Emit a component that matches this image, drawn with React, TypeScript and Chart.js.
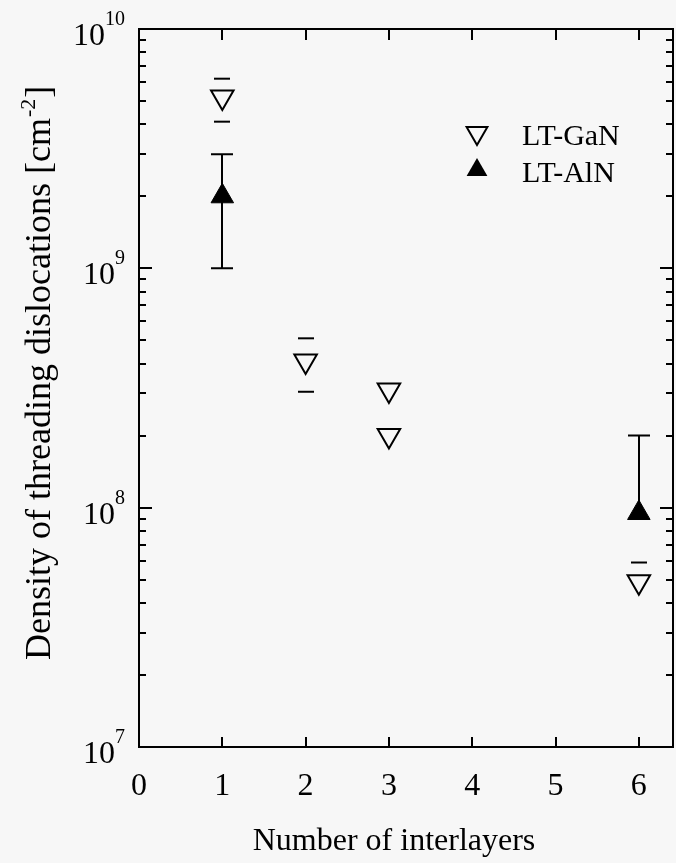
import React, { useEffect, useRef } from 'react';
import { Chart, registerables } from 'chart.js';

Chart.register(...registerables);

// ---- data ----
const xTickValues = [0, 1, 2, 3, 4, 5, 6];
const ganX = [1, 2, 3, 3, 6];
const ganY = [5.2e9, 4.1e8, 3.1e8, 2.0e8, 4.9e7];
const ganLow = [4.1e9, 3.05e8, null, null, null];
const ganHigh = [6.2e9, 5.1e8, null, null, 5.9e7];
const alnX = [1, 6];
const alnY = [2.0e9, 9.5e7];
const alnLow = [1.0e9, null];
const alnHigh = [3.0e9, 2.0e8];
const yExponents = [7, 8, 9, 10];
const seriesNames = ['LT-GaN', 'LT-AlN'];
const xTitle = 'Number of interlayers';
const yTitleMain = 'Density of threading dislocations [cm';
const yTitleSup = '-2';
const yTitleEnd = ']';

const FONT = '"Liberation Serif", "Times New Roman", serif';
const INK = '#000';
const W = 676;
const H = 863;

function triangle(ctx: CanvasRenderingContext2D, x: number, y: number, r: number, down: boolean) {
  const s = down ? -1 : 1;
  ctx.beginPath();
  ctx.moveTo(x, y - s * r);
  ctx.lineTo(x + r * Math.sin((2 * Math.PI) / 3), y + s * r * 0.5);
  ctx.lineTo(x - r * Math.sin((2 * Math.PI) / 3), y + s * r * 0.5);
  ctx.closePath();
}

const decorPlugin = {
  id: 'decor',
  beforeDraw(chart: any) {
    const ctx = chart.ctx as CanvasRenderingContext2D;
    ctx.save();
    ctx.fillStyle = '#f7f7f7';
    ctx.fillRect(0, 0, chart.width, chart.height);
    ctx.restore();
  },
  beforeDatasetsDraw(chart: any) {
    const ctx = chart.ctx as CanvasRenderingContext2D;
    const xs = chart.scales.x;
    const ys = chart.scales.y;
    ctx.save();
    ctx.strokeStyle = INK;
    ctx.lineWidth = 2;
    // AlN error bars (full)
    alnX.forEach((xv, i) => {
      const px = Math.round(xs.getPixelForValue(xv));
      const lo = alnLow[i] ?? alnY[i];
      const hi = alnHigh[i] ?? alnY[i];
      const pLo = ys.getPixelForValue(lo);
      const pHi = ys.getPixelForValue(hi);
      ctx.beginPath();
      ctx.moveTo(px, pLo);
      ctx.lineTo(px, pHi);
      if (alnLow[i] != null) {
        ctx.moveTo(px - 11, pLo);
        ctx.lineTo(px + 11, pLo);
      }
      if (alnHigh[i] != null) {
        ctx.moveTo(px - 11, pHi);
        ctx.lineTo(px + 11, pHi);
      }
      ctx.stroke();
    });
    // GaN error caps only
    ganX.forEach((xv, i) => {
      const px = Math.round(xs.getPixelForValue(xv));
      [ganLow[i], ganHigh[i]].forEach((v) => {
        if (v == null) return;
        const py = ys.getPixelForValue(v);
        ctx.beginPath();
        ctx.moveTo(px - 8, py);
        ctx.lineTo(px + 8, py);
        ctx.stroke();
      });
    });
    ctx.restore();
  },
  afterDraw(chart: any) {
    const ctx = chart.ctx as CanvasRenderingContext2D;
    const xs = chart.scales.x;
    const ys = chart.scales.y;
    const a = chart.chartArea;
    ctx.save();
    ctx.strokeStyle = INK;
    ctx.fillStyle = INK;
    ctx.lineWidth = 2;
    // frame
    ctx.strokeRect(a.left, a.top, a.right - a.left, a.bottom - a.top);
    // x ticks (inward top and bottom)
    ctx.beginPath();
    xTickValues.forEach((v) => {
      const px = Math.round(xs.getPixelForValue(v));
      ctx.moveTo(px, a.bottom);
      ctx.lineTo(px, a.bottom - 10);
      ctx.moveTo(px, a.top);
      ctx.lineTo(px, a.top + 11);
    });
    // y ticks major + minor, inward left and right
    yExponents.forEach((e, idx) => {
      const py = Math.round(ys.getPixelForValue(Math.pow(10, e)));
      ctx.moveTo(a.left, py);
      ctx.lineTo(a.left + 13, py);
      ctx.moveTo(a.right, py);
      ctx.lineTo(a.right - 13, py);
      if (idx < yExponents.length - 1) {
        for (let m = 2; m <= 9; m++) {
          const pm = Math.round(ys.getPixelForValue(m * Math.pow(10, e)));
          ctx.moveTo(a.left, pm);
          ctx.lineTo(a.left + 7, pm);
          ctx.moveTo(a.right, pm);
          ctx.lineTo(a.right - 7, pm);
        }
      }
    });
    ctx.stroke();

    // x tick labels
    ctx.font = `32px ${FONT}`;
    ctx.textAlign = 'center';
    ctx.textBaseline = 'alphabetic';
    xTickValues.forEach((v) => {
      ctx.fillText(String(v), xs.getPixelForValue(v), 795);
    });
    // x title
    ctx.font = `32px ${FONT}`;
    ctx.fillText(xTitle, 394, 850);

    // y tick labels: 10^e
    ctx.textAlign = 'right';
    yExponents.forEach((e) => {
      const py = ys.getPixelForValue(Math.pow(10, e));
      const right = 125;
      ctx.font = `20px ${FONT}`;
      const ew = ctx.measureText(String(e)).width;
      ctx.fillText(String(e), right, py - 4);
      ctx.font = `32px ${FONT}`;
      ctx.fillText('10', right - ew, py + 16);
    });

    // y title (rotated, with superscript)
    ctx.save();
    ctx.translate(50, 660);
    ctx.rotate(-Math.PI / 2);
    ctx.textAlign = 'left';
    ctx.font = `36px ${FONT}`;
    const w1 = ctx.measureText(yTitleMain).width;
    ctx.fillText(yTitleMain, 0, 0);
    ctx.font = `22px ${FONT}`;
    const w2 = ctx.measureText(yTitleSup).width;
    ctx.fillText(yTitleSup, w1 + 1, -15);
    ctx.font = `36px ${FONT}`;
    ctx.fillText(yTitleEnd, w1 + w2 + 2, 0);
    ctx.restore();

    // legend
    ctx.lineWidth = 2;
    triangle(ctx, 477, 133, 12, true);
    ctx.stroke();
    triangle(ctx, 477, 170, 12, false);
    ctx.fill();
    ctx.font = `30px ${FONT}`;
    ctx.textAlign = 'left';
    ctx.fillText(seriesNames[0], 522, 145);
    ctx.fillText(seriesNames[1], 522, 182);
    ctx.restore();
  },
};

export default function App() {
  const ref = useRef<HTMLCanvasElement | null>(null);
  useEffect(() => {
    if (!ref.current) return;
    const chart = new Chart(ref.current, {
      type: 'scatter',
      data: {
        datasets: [
          {
            label: seriesNames[0],
            data: ganX.map((x, i) => ({ x, y: ganY[i] })),
            pointStyle: 'triangle',
            rotation: 180,
            pointRadius: 13,
            pointHoverRadius: 13,
            backgroundColor: 'rgba(0,0,0,0)',
            borderColor: INK,
            borderWidth: 2,
          },
          {
            label: seriesNames[1],
            data: alnX.map((x, i) => ({ x, y: alnY[i] })),
            pointStyle: 'triangle',
            pointRadius: 13,
            pointHoverRadius: 13,
            backgroundColor: INK,
            borderColor: INK,
            borderWidth: 1,
          },
        ],
      },
      options: {
        animation: false,
        responsive: false,
        devicePixelRatio: 1,
        layout: { autoPadding: false, padding: { left: 139, top: 29, right: 3, bottom: 116 } },
        plugins: { legend: { display: false }, tooltip: { enabled: false } },
        scales: {
          x: { type: 'linear', min: 0, max: 6.41, display: false },
          y: { type: 'logarithmic', min: 1e7, max: 1e10, display: false },
        },
      },
      plugins: [decorPlugin],
    });
    return () => chart.destroy();
  }, []);
  return (
    <div style={{ position: 'absolute', left: 0, top: 0, width: W, height: H, overflow: 'hidden', background: '#f7f7f7' }}>
      <canvas ref={ref} width={W} height={H} style={{ display: 'block', width: W, height: H }} />
    </div>
  );
}
